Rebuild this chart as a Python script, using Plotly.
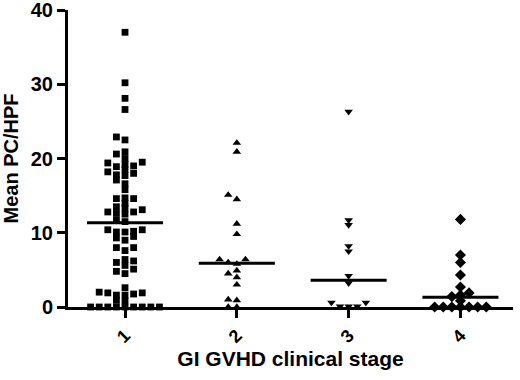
import numpy as np
import plotly.graph_objects as go

stages = ["1", "2", "3", "4"]
stage1 = [37.0, 30.2, 28.1, 26.6, 22.9, 22.5, 20.9, 20.6, 20.0, 19.5, 19.4, 19.2,
          19.0, 18.9, 18.5, 18.2, 18.0, 17.8, 17.7, 17.1, 16.6, 15.8, 14.7, 14.6,
          14.6, 14.0, 13.5, 13.3, 13.1, 12.8, 12.8, 12.6, 12.5, 11.7, 11.5, 10.4,
          10.4, 10.2, 10.1, 10.1, 9.5, 9.3, 9.0, 8.0, 8.0, 7.6, 6.4, 6.2, 6.0, 5.6,
          5.1, 4.8, 4.5, 2.6, 2.0, 1.9, 1.9, 1.75, 1.6, 1.6, 0.9, 0.8,
          0, 0, 0, 0, 0, 0, 0, 0, 0]
stage2 = [22.1, 20.9, 15.1, 14.5, 11.2, 9.8, 6.4, 6.4, 6.0, 5.8, 4.9, 4.5, 4.0,
          3.0, 1.0, 0.9, 0, 0]
stage3 = [26.3, 11.7, 11.05, 8.2, 7.5, 4.2, 3.2, 0.6, 0.6, 0.1, 0.1, 0.1]
stage4 = [11.8, 7.0, 6.0, 4.3, 2.7, 1.9, 1.6, 1.4, 0.85, 0, 0, 0, 0, 0, 0, 0]
medians = [11.35, 5.9, 3.6, 1.3]
y_ticks = [0, 10, 20, 30, 40]

groups = [stage1, stage2, stage3, stage4]
symbols = ["square", "triangle-up", "triangle-down", "diamond"]
sizes = [6.8, 7.5, 7.5, 8.5]


def swarm(vals, slot=0.077, dymin=0.65):
    vals = np.asarray(vals, dtype=float)
    order = np.argsort(vals, kind="stable")
    placed = {}
    offs = np.zeros(len(vals))
    seq = [0]
    for k in range(1, 12):
        seq += [-k, k]
    for i in order:
        v = vals[i]
        for s in seq:
            if all(abs(v - u) >= dymin - 1e-9 for u in placed.get(s, [])):
                placed.setdefault(s, []).append(v)
                offs[i] = s * slot
                break
    return offs


fig = go.Figure()
for k, (vals, sym, sz) in enumerate(zip(groups, symbols, sizes), start=1):
    xs = k + swarm(vals)
    fig.add_trace(go.Scatter(
        x=xs, y=vals, mode="markers", cliponaxis=False, showlegend=False,
        marker=dict(symbol=sym, size=sz, color="black", line=dict(width=0)),
    ))
    half = 0.34
    fig.add_trace(go.Scatter(
        x=[k - half, k + half], y=[medians[k - 1]] * 2, mode="lines",
        cliponaxis=False, showlegend=False, line=dict(color="black", width=3),
    ))

font_b = dict(family="Liberation Sans, Arial, sans-serif", color="black", weight="bold")

fig.update_layout(
    width=520, height=380,
    margin=dict(l=68, r=7, t=10, b=73),
    plot_bgcolor="white", paper_bgcolor="white",
    xaxis=dict(
        range=[0.49, 4.47], tickvals=[1, 2, 3, 4], ticktext=stages,
        tickangle=-45, showline=True, linewidth=3, linecolor="black",
        ticks="outside", ticklen=8, tickwidth=3, tickcolor="black",
        showgrid=False, zeroline=False, automargin=False,
        tickfont=dict(size=18, **font_b),
        title=dict(text="GI GVHD clinical stage", font=dict(size=21, **font_b), standoff=6),
    ),
    yaxis=dict(
        range=[0, 40], tickvals=y_ticks, showline=True, linewidth=3, linecolor="black",
        ticks="outside", ticklen=8, tickwidth=3, tickcolor="black",
        showgrid=False, zeroline=False, automargin=False,
        ticklabeloverflow="allow",
        tickfont=dict(size=20, **font_b),
        title=dict(text="Mean PC/HPF", font=dict(size=20, **font_b), standoff=8),
    ),
)

fig.write_html(
    "out.html",
    config={"displayModeBar": False},
    post_script="document.body.style.margin='0';document.body.style.overflow='hidden';",
)
